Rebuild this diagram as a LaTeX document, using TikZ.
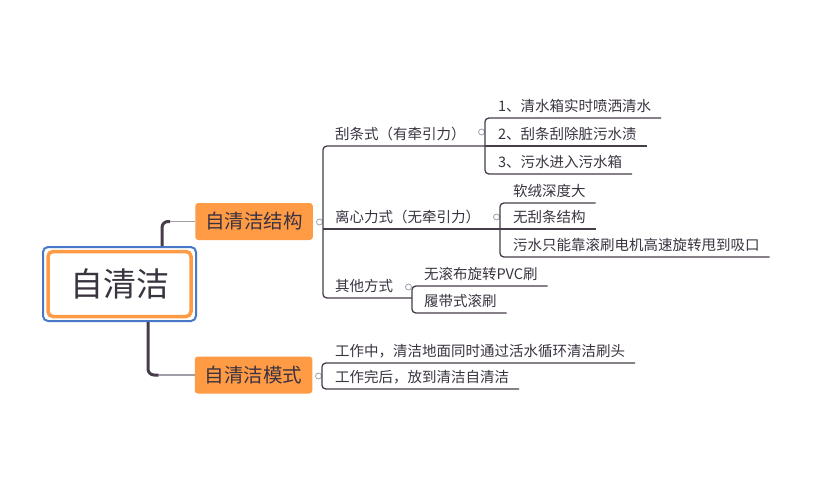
\documentclass[tikz,border=0pt]{standalone}
\usepackage{fontspec}
\setmainfont{Noto Sans CJK SC}
\usetikzlibrary{positioning,calc}
\definecolor{ink}{HTML}{3A3340}
\definecolor{wire}{HTML}{463C4A}
\definecolor{ashy}{HTML}{A29EA8}
\definecolor{tang}{HTML}{FF9A45}
\definecolor{selblue}{HTML}{4A78C8}
\tikzset{
  rootbox/.style={rectangle,rounded corners=5pt,draw=tang,line width=3.5pt,fill=white,
                  minimum width=143pt,minimum height=65pt,
                  font=\fontsize{33}{36}\selectfont,text=ink},
  selbox/.style={rectangle,rounded corners=5pt,draw=selblue,line width=2pt,
                 minimum width=153pt,minimum height=74pt},
  mainbox/.style={rectangle,rounded corners=3pt,fill=tang,minimum height=37pt,
                  font=\fontsize{19.5}{22}\selectfont,text=ink,inner xsep=10pt},
  topic/.style={anchor=south west,inner sep=0pt,outer xsep=10pt,text depth=6.5pt,
                font=\fontsize{14.5}{16}\selectfont,text=ink},
  knob/.style={circle,draw=ashy,fill=white,line width=0.8pt,
               minimum size=6pt,inner sep=0pt},
  trunk/.style={line width=3pt,draw=wire,rounded corners=6pt},
  twig/.style={line width=1.5pt,draw=ashy},
  link/.style={line width=1.3pt,draw=wire,rounded corners=4pt},
}

\begin{document}
\begin{tikzpicture}[x=1pt,y=-1pt]
  \useasboundingbox (0,0) rectangle (818,493);

  % root and main branches
  \node[selbox]  (sel)  at (119.5,284) {};
  \node[rootbox] (root) at (119.5,284) {自清洁};
  \node[mainbox] (b1) at (254,221.5) {自清洁结构};
  \node[mainbox] (b2) at (253.5,375) {自清洁模式};

  \draw[trunk] ([xshift=42.5pt]sel.north) |- ([xshift=-25pt]b1.west);
  \draw[twig]  ([xshift=-25pt]b1.west) -- (b1.west);
  \draw[trunk] ([xshift=28.5pt]sel.south) |- ([xshift=-36pt]b2.west);
  \draw[twig]  ([xshift=-36pt]b2.west) -- (b2.west);

  \node[knob] (k1) at (319.5,222) {};
  \node[knob] (k2) at (318.5,376) {};

  % structure
  \node[topic] (s1) at (325,146) {刮条式（有牵引力）};
  \node[topic] (s2) at (325,229) {离心力式（无牵引力）};
  \node[topic] (s3) at (325,298) {其他方式};
  \node[knob] (kc1) at (481.5,132) {};
  \node[knob] (kc2) at (496.5,217) {};
  \node[knob] (kc3) at (408.5,287) {};

  \draw[link] (kc1.east |- s1.south) -- (k1.east |- s1.south)
              -- (k1.east |- s3.south) -- (kc3.east |- s3.south);
  \draw[link] (k1.east |- s2.south) -- (kc2.east |- s2.south);

  \node[topic] (a1) at (488,118) {1、清水箱实时喷洒清水};
  \node[topic] (a2) at (488,146) {2、刮条刮除脏污水渍};
  \node[topic] (a3) at (488,174) {3、污水进入污水箱};
  \draw[link] (a1.south east) -- (kc1.east |- a1.south)
              -- (kc1.east |- a3.south) -- (a3.south east);
  \draw[link] (kc1.east |- a2.south) -- (a2.south east);

  \node[topic] (d1) at (503,203) {软绒深度大};
  \node[topic] (d2) at (503,229) {无刮条结构};
  \node[topic] (d3) at (503,257) {污水只能靠滚刷电机高速旋转甩到吸口};
  \draw[link] (d1.south east) -- (kc2.east |- d1.south)
              -- (kc2.east |- d3.south) -- (d3.south east);
  \draw[link] (kc2.east |- d2.south) -- (d2.south east);

  \node[topic] (e1) at (414,286) {无滚布旋转PVC刷};
  \node[topic] (e2) at (414,313) {履带式滚刷};
  \draw[link] (e1.south east) -- (kc3.east |- e1.south)
              -- (kc3.east |- e2.south) -- (e2.south east);

  % modes
  \node[topic] (m1) at (325,363) {工作中，清洁地面同时通过活水循环清洁刷头};
  \node[topic] (m2) at (325,389) {工作完后，放到清洁自清洁};
  \draw[link] (m1.south east) -- (k2.east |- m1.south)
              -- (k2.east |- m2.south) -- (m2.south east);
\end{tikzpicture}
\end{document}
